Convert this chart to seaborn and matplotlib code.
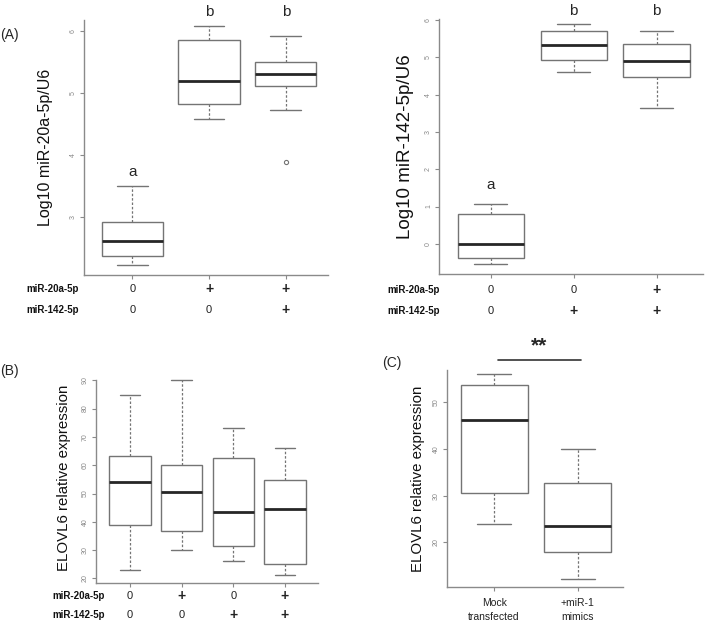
import numpy as np
import pandas as pd
import matplotlib
matplotlib.use("Agg")
import matplotlib.pyplot as plt
import matplotlib.transforms as mtrans
import seaborn as sns

# ---------------- data (five-number summaries) ----------------
# Panel A-left: Log10 miR-20a-5p/U6
a1_groups = ["G1", "G2", "G3"]
a1_low = [2.22, 4.58, 4.73]
a1_q1 = [2.36, 4.83, 5.11]
a1_med = [2.61, 5.19, 5.30]
a1_q3 = [2.92, 5.86, 5.50]
a1_high = [3.49, 6.09, 5.92]
a1_out = [None, None, 3.89]
a1_letters = ["a", "b", "b"]
a1_row1 = ["0", "+", "+"]
a1_row2 = ["0", "0", "+"]

# Panel A-right: Log10 miR-142-5p/U6
a2_groups = ["G1", "G2", "G3"]
a2_low = [-0.53, 4.60, 3.63]
a2_q1 = [-0.39, 4.93, 4.48]
a2_med = [0.00, 5.32, 4.90]
a2_q3 = [0.81, 5.72, 5.37]
a2_high = [1.07, 5.89, 5.72]
a2_out = [None, None, None]
a2_letters = ["a", "b", "b"]
a2_row1 = ["0", "0", "+"]
a2_row2 = ["0", "+", "+"]

# Panel B: ELOVL6 relative expression
b_groups = ["G1", "G2", "G3", "G4"]
b_low = [23.0, 30.1, 26.0, 21.1]
b_q1 = [38.8, 36.6, 31.5, 25.0]
b_med = [54.0, 50.5, 43.4, 44.5]
b_q3 = [63.4, 60.0, 62.7, 54.6]
b_high = [84.8, 90.1, 73.3, 66.1]
b_out = [None, None, None, None]
b_row1 = ["0", "+", "0", "+"]
b_row2 = ["0", "0", "+", "+"]

# Panel C: ELOVL6 relative expression, mock vs miR-1 mimics
c_groups = ["Mock\ntransfected", "+miR-1\nmimics"]
c_low = [24.0, 12.2]
c_q1 = [30.6, 17.9]
c_med = [46.1, 23.5]
c_q3 = [53.6, 32.7]
c_high = [56.1, 40.0]
c_out = [None, None]

row_names = ["miR-20a-5p", "miR-142-5p"]

W, H = 710, 626


def long_frame(groups, low, q1, med, q3, high, out):
    rows = []
    for g, lo, a, m, b, hi, o in zip(groups, low, q1, med, q3, high, out):
        if o is None:
            vals = [lo, a, m, b, hi]
        else:
            vals = [o, lo, a, a, m, m, b, b, hi]
        rows += [(g, v) for v in vals]
    return pd.DataFrame(rows, columns=["group", "value"])


def px_axes(fig, l, t, r, b):
    return fig.add_axes([l / W, 1 - b / H, (r - l) / W, (b - t) / H])


def fy(y):
    return 1 - y / H


sns.set_style("white")
plt.rcParams["font.family"] = ["Liberation Sans", "DejaVu Sans"]

fig = plt.figure(figsize=(W / 100, H / 100), dpi=100)

BOXC = "#747474"
MEDC = "#262626"


def draw(ax, df, order, xlim, ylim, yticks, ylabel, ylabel_size):
    sns.boxplot(data=df, x="group", y="value", order=order, ax=ax, width=0.8,
                color="white", linecolor=BOXC, linewidth=1.0, whis=1.5,
                medianprops=dict(color=MEDC, linewidth=2.0),
                whiskerprops=dict(linestyle=(0, (2, 1.5)), linewidth=0.9),
                capprops=dict(linewidth=1.0),
                flierprops=dict(marker="o", markersize=3, markerfacecolor="none",
                                markeredgecolor=BOXC, markeredgewidth=0.8))
    ax.set_xlim(*xlim)
    ax.set_ylim(*ylim)
    ax.set_yticks(yticks)
    ax.set_yticklabels([str(t) for t in yticks], rotation=90, va="center",
                       fontsize=5, color="#888888")
    ax.set_xticks(range(len(order)))
    ax.set_xticklabels([])
    ax.set_xlabel("")
    ax.set_ylabel(ylabel, fontsize=ylabel_size, color="#111111")
    for s in ["top", "right"]:
        ax.spines[s].set_visible(False)
    for s in ["left", "bottom"]:
        ax.spines[s].set_color("#8a8a8a")
        ax.spines[s].set_linewidth(1.0)
    ax.tick_params(axis="both", length=3, width=0.8, color="#8a8a8a", pad=2,
                   left=True, bottom=True)
    ax.set_facecolor("white")


def cell(ax, tr, x, y, s):
    if s == "+":
        ax.text(x, fy(y), s, transform=tr, ha="center", va="center",
                fontsize=10, fontweight="bold", color="#222222")
    else:
        ax.text(x, fy(y), s, transform=tr, ha="center", va="center",
                fontsize=8, color="#222222")


def rows_below(ax, row1, row2, lx, y1, y2):
    tr = mtrans.blended_transform_factory(ax.transData, fig.transFigure)
    for i, (r1, r2) in enumerate(zip(row1, row2)):
        cell(ax, tr, i, y1, r1)
        cell(ax, tr, i, y2, r2)
    fig.text(lx / W, fy(y1), row_names[0], ha="left", va="center",
             fontsize=7, fontweight="bold", color="#111111")
    fig.text(lx / W, fy(y2), row_names[1], ha="left", va="center",
             fontsize=7, fontweight="bold", color="#111111")


# ---- Panel A left ----
axA1 = px_axes(fig, 84, 20, 328, 275)
draw(axA1, long_frame(a1_groups, a1_low, a1_q1, a1_med, a1_q3, a1_high, a1_out),
     a1_groups, (-0.63, 2.55), (2.06, 6.18), [3, 4, 5, 6],
     "Log10 miR-20a-5p/U6", 11.5)
axA1.yaxis.labelpad = 12
for i, (lt, yv) in enumerate(zip(a1_letters, [3.72, 6.31, 6.31])):
    axA1.text(i, yv, lt, ha="center", va="center", fontsize=11, clip_on=False)
rows_below(axA1, a1_row1, a1_row2, 26, 289, 310)

# ---- Panel A right ----
axA2 = px_axes(fig, 439, 19, 703, 274)
draw(axA2, long_frame(a2_groups, a2_low, a2_q1, a2_med, a2_q3, a2_high, a2_out),
     a2_groups, (-0.625, 2.56), (-0.81, 6.03), [0, 1, 2, 3, 4, 5, 6],
     "Log10 miR-142-5p/U6", 13.5)
axA2.yaxis.labelpad = 8
for i, (lt, yv) in enumerate(zip(a2_letters, [1.57, 6.24, 6.24])):
    axA2.text(i, yv, lt, ha="center", va="center", fontsize=11, clip_on=False)
rows_below(axA2, a2_row1, a2_row2, 387, 290, 311)

# ---- Panel B ----
axB = px_axes(fig, 96, 372, 318, 583)
draw(axB, long_frame(b_groups, b_low, b_q1, b_med, b_q3, b_high, b_out),
     b_groups, (-0.66, 3.64), (18.4, 92.9), [20, 30, 40, 50, 60, 70, 80, 90],
     "ELOVL6 relative expression", 10.8)
axB.spines["left"].set_bounds(18.4, 90)
axB.yaxis.labelpad = 8
rows_below(axB, b_row1, b_row2, 52, 596, 615)

# ---- Panel C ----
axC = px_axes(fig, 447, 370, 623, 587)
draw(axC, long_frame(c_groups, c_low, c_q1, c_med, c_q3, c_high, c_out),
     c_groups, (-0.564, 1.54), (10.43, 56.9), [20, 30, 40, 50],
     "ELOVL6 relative expression", 10.8)
axC.yaxis.labelpad = 6
trC = mtrans.blended_transform_factory(axC.transData, fig.transFigure)
for i, g in enumerate(c_groups):
    axC.text(i, fy(610), g, transform=trC, ha="center", va="center",
             fontsize=7.5, color="#222222", linespacing=1.5)
axC.plot([0.04, 1.04], [59.1, 59.1], color="#333333", lw=1.2, clip_on=False)
axC.text(0.54, 62.0, "**", ha="center", va="center", fontsize=15,
         fontweight="bold", clip_on=False)

# panel tags
fig.text(0 / W, fy(35), "(A)", ha="left", va="center", fontsize=10)
fig.text(0 / W, fy(371), "(B)", ha="left", va="center", fontsize=10)
fig.text(382 / W, fy(363), "(C)", ha="left", va="center", fontsize=10)

fig.savefig("out.png", dpi=100, facecolor="white")
